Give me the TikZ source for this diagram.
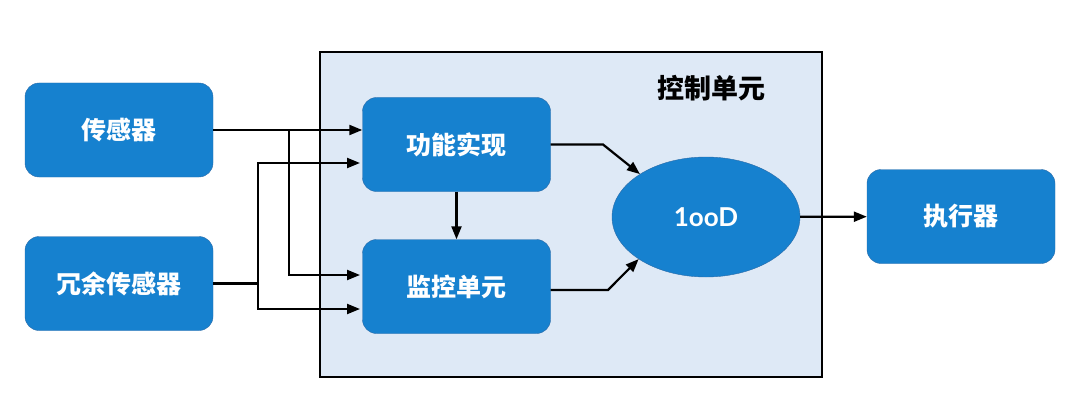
\documentclass[tikz,border=0pt]{standalone}
\usepackage{fontspec}
\newfontfamily\cjk{Noto Sans CJK SC}[BoldFont={Noto Sans CJK SC Black}]
\setmainfont{Lato}
\usetikzlibrary{shapes.geometric,positioning,arrows.meta}
\definecolor{boxblue}{HTML}{1681CF}
\definecolor{boxedge}{HTML}{2B6BA8}
\definecolor{ctrlbg}{HTML}{DEE9F6}
\tikzset{blockbox/.style={draw=boxedge,fill=boxblue,rounded corners=14pt,minimum width=188pt,minimum height=94pt,
      text=white,font=\fontsize{25}{28}\selectfont\cjk\bfseries},
    link/.style={-{Triangle[length=13pt,width=10pt]},line width=2.2pt}}
\begin{document}
\begin{tikzpicture}[x=1pt,y=-1pt]
    \useasboundingbox (0,0) rectangle (1080,420);
    \node (ctrl) [draw,line width=1.2pt,fill=ctrlbg,minimum width=502pt,minimum height=325pt] at (571,214.5) {};
    \node (ctrltitle) [font=\fontsize{27}{30}\selectfont\cjk\bfseries] at (711,88) {控制单元};
    \node (sens) [blockbox] at (119,130) {传感器};
    \node (rsens) [blockbox] at (119,283.5) {冗余传感器};
    \node (func) [blockbox] at (456.5,144.5) {功能实现};
    \node (mon) [blockbox] at (456.5,286.5) {监控单元};
    \node (vote) [ellipse,draw=boxedge,fill=boxblue,minimum width=188pt,minimum height=120pt,text=white,
      font=\fontsize{26}{30}\selectfont\bfseries] at (706,217) {1ooD};
    \node (act) [blockbox] at (961,216.5) {执行器};
    % sensor paths
    \coordinate (sj) at (289,130);
    \coordinate (rj) at (258,283.5);
    \coordinate (funcin) at (360,163);
    \coordinate (monina) at (360,275);
    \coordinate (moninb) at (360,309);
    \coordinate (monout) at (608,290);
    \draw[link] (sens.east|-sj) -- (func.west|-sj);
    \draw[link] (sj) |- (monina);
    \draw[link,-] (rsens.east|-rj) -- (rj);
    \draw[link] (rj) |- (funcin);
    \draw[link] (rj) |- (moninb);
    % inside the control unit
    \draw[link] (func.east) -- (603,144.5) -- (vote.147);
    \draw[link] (func) -- (mon);
    \draw[link] (mon.east|-monout) -- (monout) -- (vote.212);
    \draw[link] (vote) -- (act);
\end{tikzpicture}
\end{document}
